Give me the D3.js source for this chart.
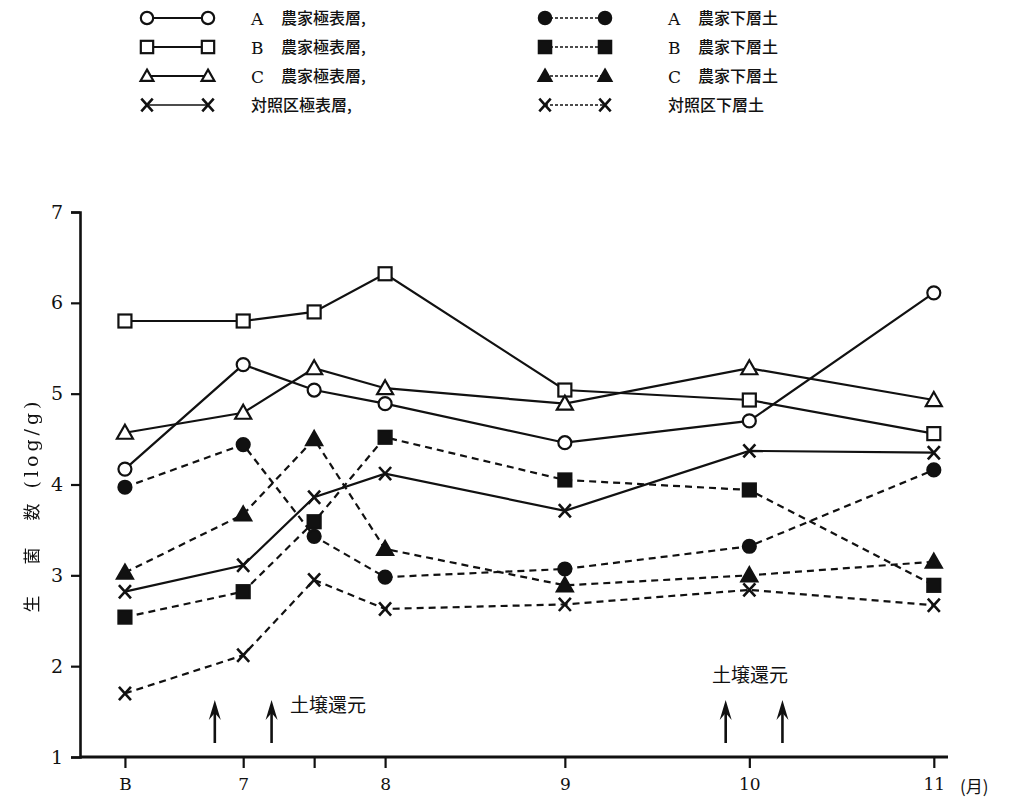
<!DOCTYPE html>
<html>
<head>
<meta charset="utf-8">
<script src="https://cdn.jsdelivr.net/npm/d3@7"></script>
<style>
  html, body { margin: 0; padding: 0; background: #fff; }
  svg { display: block; }
</style>
</head>
<body>
<svg id="chart" width="1010" height="805"></svg>
<script>
// Sampling dates, counted in days from the first survey
const sampleDays = [0, 25, 40, 55, 93, 132, 171];
// Tick labels at each sampling date ("" = unlabeled tick)
const tickLabels = ["B", "7", "", "8", "9", "10", "11"];
const yTicks = [1, 2, 3, 4, 5, 6, 7];

// Viable counts (log/g), surface layer
const aSurface = [4.17, 5.32, 5.04, 4.89, 4.46, 4.70, 6.11];
const bSurface = [5.80, 5.80, 5.90, 6.32, 5.04, 4.93, 4.56];
const cSurface = [4.57, 4.79, 5.28, 5.06, 4.89, 5.28, 4.93];
const ctrlSurface = [2.82, 3.11, 3.86, 4.12, 3.71, 4.37, 4.35];
// Viable counts (log/g), subsoil
const aSubsoil = [3.97, 4.44, 3.43, 2.98, 3.07, 3.32, 4.16];
const bSubsoil = [2.54, 2.82, 3.59, 4.52, 4.05, 3.94, 2.89];
const cSubsoil = [3.03, 3.67, 4.50, 3.29, 2.89, 3.00, 3.15];
const ctrlSubsoil = [1.70, 2.12, 2.95, 2.63, 2.68, 2.84, 2.67];

const seriesNames = [
  "A 農家極表層,", "B 農家極表層,", "C 農家極表層,", "対照区極表層,",
  "A 農家下層土", "B 農家下層土", "C 農家下層土", "対照区下層土"
];

// Soil reduction events (days)
const reductionDays = [19, 31, 127, 139];

const series = [
  { name: seriesNames[0], values: aSurface, shape: "circle", filled: false, dashed: false },
  { name: seriesNames[1], values: bSurface, shape: "square", filled: false, dashed: false },
  { name: seriesNames[2], values: cSurface, shape: "triangle", filled: false, dashed: false },
  { name: seriesNames[3], values: ctrlSurface, shape: "cross", filled: false, dashed: false },
  { name: seriesNames[4], values: aSubsoil, shape: "circle", filled: true, dashed: true },
  { name: seriesNames[5], values: bSubsoil, shape: "square", filled: true, dashed: true },
  { name: seriesNames[6], values: cSubsoil, shape: "triangle", filled: true, dashed: true },
  { name: seriesNames[7], values: ctrlSubsoil, shape: "cross", filled: false, dashed: true }
];

const svg = d3.select("#chart");
const ink = "#111";
const jpFont = "Noto Sans CJK JP, sans-serif";
const numFont = "DejaVu Serif, serif";

// Greyscale filter keeps rotated text free of colour fringes
svg.append("defs").append("filter").attr("id", "mono")
  .append("feColorMatrix").attr("type", "saturate").attr("values", 0);

const x = d3.scaleLinear().domain([-9.5, 174]).range([80, 948]);
const y = d3.scaleLinear().domain([1, 7]).range([757, 212]);

// Marker drawing
function marker(g, shape, filled, cx, cy, s) {
  const fill = filled ? ink : "#fff";
  if (shape === "circle") {
    g.append("circle").attr("cx", cx).attr("cy", cy).attr("r", 6.5 * s)
      .attr("fill", fill).attr("stroke", ink).attr("stroke-width", 2.2);
  } else if (shape === "square") {
    const h = 6.5 * s;
    g.append("rect").attr("x", cx - h).attr("y", cy - h).attr("width", 2 * h).attr("height", 2 * h)
      .attr("fill", fill).attr("stroke", ink).attr("stroke-width", 2.2);
  } else if (shape === "triangle") {
    const h = 8 * s;
    g.append("path")
      .attr("d", `M${cx},${cy - h} L${cx + h},${cy + h * 0.75} L${cx - h},${cy + h * 0.75} Z`)
      .attr("fill", fill).attr("stroke", ink).attr("stroke-width", 2.2).attr("stroke-linejoin", "miter");
  } else {
    const h = 6 * s;
    g.append("path")
      .attr("d", `M${cx - h},${cy - h * 1.1} L${cx + h},${cy + h * 1.1} M${cx + h},${cy - h * 1.1} L${cx - h},${cy + h * 1.1}`)
      .attr("stroke", ink).attr("stroke-width", 2.6).attr("fill", "none");
  }
}

// Axes
const yAxis = d3.axisLeft(y).tickValues(yTicks).tickFormat(d3.format("d")).tickSize(9).tickPadding(8);
const yG = svg.append("g").attr("transform", "translate(80,0)").call(yAxis);
yG.select(".domain").attr("stroke", ink).attr("stroke-width", 2.6);
yG.selectAll(".tick line").attr("stroke", ink).attr("stroke-width", 2.2);
yG.selectAll(".tick text").attr("font-family", numFont).attr("font-size", 19).attr("fill", ink);

const xAxis = d3.axisBottom(x).tickValues(sampleDays)
  .tickFormat((d, i) => tickLabels[i]).tickSize(11).tickPadding(10);
const xG = svg.append("g").attr("transform", "translate(0,757)").call(xAxis);
xG.select(".domain").attr("stroke", ink).attr("stroke-width", 2.8)
  .attr("d", `M80,0H948`);
xG.selectAll(".tick line").attr("stroke", ink).attr("stroke-width", 2.2);
xG.selectAll(".tick text").attr("font-family", numFont).attr("font-size", 17).attr("fill", ink);

svg.append("text").attr("x", 960).attr("y", 793).attr("fill", ink)
  .attr("font-family", jpFont).attr("font-size", 17).text("(月)");

// Y axis title, written bottom-to-top with wide spacing
const yTitle = svg.append("g").attr("filter", "url(#mono)");
[["生", 604, jpFont, 17, 0], ["菌", 556, jpFont, 17, 0], ["数", 512, jpFont, 17, 0], ["(log/g)", 443, numFont, 19, 4]]
  .forEach(([t, cy, f, fs, ls]) => {
    yTitle.append("text")
      .attr("transform", `translate(38,${cy}) rotate(-90)`)
      .attr("text-anchor", "middle").attr("fill", ink)
      .attr("letter-spacing", ls)
      .attr("font-family", f).attr("font-size", fs).text(t);
  });

// Series lines and markers
const line = d3.line().x((d, i) => x(sampleDays[i])).y(d => y(d));
const plot = svg.append("g");
series.forEach(s => {
  plot.append("path").datum(s.values).attr("d", line)
    .attr("fill", "none").attr("stroke", ink).attr("stroke-width", 2.2)
    .attr("stroke-dasharray", s.dashed ? "7,5" : null);
});
series.forEach(s => {
  const g = plot.append("g");
  s.values.forEach((v, i) => marker(g, s.shape, s.filled, x(sampleDays[i]), y(v), 1));
});

// Soil reduction arrows
function arrow(px, y0, y1) {
  const g = svg.append("g");
  g.append("line").attr("x1", px).attr("x2", px).attr("y1", y0 + 6).attr("y2", y1)
    .attr("stroke", ink).attr("stroke-width", 2.6);
  g.append("path").attr("d", `M${px},${y0} L${px + 6},${y0 + 20} L${px},${y0 + 13} L${px - 6},${y0 + 20} Z`)
    .attr("fill", ink);
}
reductionDays.forEach(d => arrow(x(d), 700, 743));
svg.append("text").attr("x", 290).attr("y", 712).attr("fill", ink)
  .attr("font-family", jpFont).attr("font-size", 19).text("土壌還元");
svg.append("text").attr("x", 750).attr("y", 682).attr("text-anchor", "middle").attr("fill", ink)
  .attr("font-family", jpFont).attr("font-size", 19).text("土壌還元");

// Legend
const legend = svg.append("g");
series.forEach((s, i) => {
  const col = i < 4 ? 0 : 1;
  const row = i % 4;
  const ly = 18 + row * 29;
  const x0 = col === 0 ? 147 : 545;
  const x1 = col === 0 ? 208 : 605;
  legend.append("line").attr("x1", x0).attr("x2", x1).attr("y1", ly).attr("y2", ly)
    .attr("stroke", ink).attr("stroke-width", s.dashed ? 1.4 : (s.shape === "cross" ? 1.4 : 2.2))
    .attr("stroke-dasharray", s.dashed ? "3,2" : null);
  const sc = s.shape === "triangle" ? 0.8 : 0.95;
  marker(legend, s.shape, s.filled, x0, ly, sc);
  marker(legend, s.shape, s.filled, x1, ly, sc);
  const tx = col === 0 ? 251 : 668;
  const parts = s.name.match(/^([ABC]) (.*)$/);
  if (parts) {
    legend.append("text").attr("x", tx).attr("y", ly + 7).attr("fill", ink)
      .attr("font-family", numFont).attr("font-size", 17).text(parts[1]);
    legend.append("text").attr("x", tx + 30).attr("y", ly + 6).attr("fill", ink)
      .attr("font-family", jpFont).attr("font-size", 16).attr("font-weight", 500).text(parts[2]);
  } else {
    legend.append("text").attr("x", tx).attr("y", ly + 6).attr("fill", ink)
      .attr("font-family", jpFont).attr("font-size", 16).attr("font-weight", 500).text(s.name);
  }
});
</script>
</body>
</html>
